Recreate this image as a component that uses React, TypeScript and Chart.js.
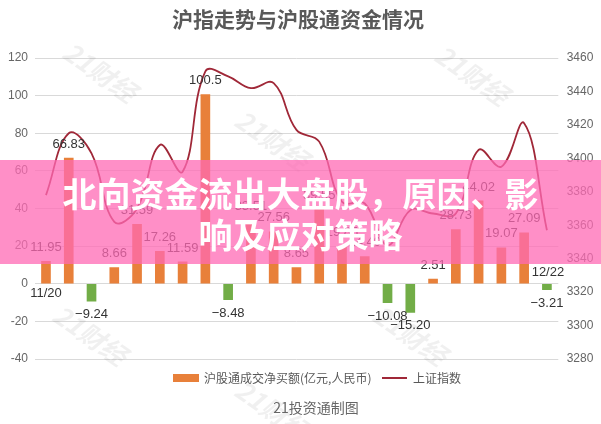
import React, { useEffect, useRef } from "react";
import { Chart, registerables } from "chart.js";

Chart.register(...registerables);

const dates = [
  "11/20", "11/23", "11/24", "11/25", "11/26", "11/27", "11/30", "12/1",
  "12/2", "12/3", "12/4", "12/7", "12/8", "12/9", "12/10", "12/11",
  "12/14", "12/15", "12/16", "12/17", "12/18", "12/21", "12/22",
];
const netBuy = [
  11.95, 66.83, -9.24, 8.66, 31.59, 17.26, 11.59, 100.5, -8.48, 33.51, 27.56,
  8.65, 39.55, 19.85, 14.49, -10.08, -15.2, 2.51, 28.73, 44.02, 19.07, 27.09,
  -3.21,
];
const netBuyLabels = [
  "11.95", "66.83", "\u22129.24", "8.66", "31.59", "17.26", "11.59", "100.5",
  "\u22128.48", "33.51", "27.56", "8.65", "39.55", "19.85", "14.49",
  "\u221210.08", "\u221215.20", "2.51", "28.73", "44.02", "19.07", "27.09",
  "\u22123.21",
];
const sseIndex = [
  3378, 3415, 3403, 3362, 3370, 3408, 3392, 3452, 3449, 3442, 3445, 3417,
  3410, 3374, 3373, 3348, 3369, 3367, 3367, 3405, 3395, 3421, 3357,
];
const leftTicks = [-40, -20, 0, 20, 40, 60, 80, 100, 120];
const rightTicks = [3280, 3300, 3320, 3340, 3360, 3380, 3400, 3420, 3440, 3460];

const titleText = "沪指走势与沪股通资金情况";
const barName = "沪股通成交净买额(亿元,人民币)";
const lineName = "上证指数";
const footerText = "21投资通制图";
const watermarkText = "21财经";
const bannerLine1 = "北向资金流出大盘股，原因、影";
const bannerLine2 = "响及应对策略";

const ORANGE = "#e8803a";
const GREEN = "#72ad47";
const LINE = "#a02838";
const NUMFONT = "'Liberation Sans', Arial, sans-serif";
const CJKFONT = "'Noto Sans CJK SC', 'Noto Sans', sans-serif";

const watermarkSpots = [
  [100, 72],
  [272, 140],
  [472, 75],
  [90, 335],
  [272, 410],
  [410, 335],
];

const overlayPlugin = {
  id: "overlayText",
  beforeDatasetsDraw(chart: any) {
    const ctx = chart.ctx;
    ctx.save();
    ctx.fillStyle = "rgba(0,0,0,0.06)";
    ctx.font = `italic bold 26px ${CJKFONT}`;
    ctx.textAlign = "center";
    ctx.textBaseline = "middle";
    watermarkSpots.forEach(([x, y]) => {
      ctx.save();
      ctx.translate(x, y);
      ctx.rotate((35 * Math.PI) / 180);
      ctx.fillText(watermarkText, 0, 0);
      ctx.restore();
    });
    ctx.restore();
  },
  afterDatasetsDraw(chart: any) {
    const ctx = chart.ctx;
    const meta = chart.getDatasetMeta(0);
    ctx.save();
    ctx.fillStyle = "#333";
    ctx.font = `13px ${NUMFONT}`;
    ctx.textAlign = "center";
    ctx.textBaseline = "middle";
    meta.data.forEach((el: any, i: number) => {
      const v = netBuy[i];
      const y = v >= 0 ? el.y - 14 : el.y + 13.5;
      ctx.fillText(netBuyLabels[i], el.x, y);
    });
    const first = meta.data[0];
    const last = meta.data[meta.data.length - 1];
    const yScale = chart.scales.y;
    const zero = yScale.getPixelForValue(0);
    ctx.fillText(dates[0], first.x, zero + 10);
    ctx.fillText(dates[dates.length - 1], last.x + 1, zero - 11);
    ctx.restore();
  },
  afterDraw(chart: any) {
    const ctx = chart.ctx;
    ctx.save();
    // title
    ctx.fillStyle = "#595959";
    ctx.font = `bold 21px ${CJKFONT}`;
    ctx.textAlign = "center";
    ctx.textBaseline = "middle";
    ctx.fillText(titleText, 298, 19);
    // legend
    const ly = 378;
    ctx.fillStyle = ORANGE;
    ctx.fillRect(173, ly - 4, 26, 8);
    ctx.font = `12px ${CJKFONT}`;
    ctx.fillStyle = "#595959";
    ctx.textAlign = "left";
    ctx.fillText(barName, 204, ly);
    ctx.strokeStyle = LINE;
    ctx.lineWidth = 2;
    ctx.beginPath();
    ctx.moveTo(382, ly);
    ctx.lineTo(407, ly);
    ctx.stroke();
    ctx.fillText(lineName, 413, ly);
    // footer
    ctx.textAlign = "center";
    ctx.font = `14px ${CJKFONT}`;
    ctx.fillStyle = "#666";
    ctx.fillText(footerText, 316, 408);
    ctx.restore();
  },
};

export default function App() {
  const ref = useRef<HTMLCanvasElement | null>(null);
  useEffect(() => {
    if (!ref.current) return;
    const chart = new Chart(ref.current, {
      type: "bar",
      data: {
        labels: dates,
        datasets: [
          {
            type: "bar",
            label: barName,
            data: netBuy,
            backgroundColor: netBuy.map((v) => (v >= 0 ? ORANGE : GREEN)),
            barThickness: 9,
            yAxisID: "y",
            order: 1,
          },
          {
            type: "line",
            label: lineName,
            data: sseIndex,
            borderColor: LINE,
            borderWidth: 1.8,
            pointRadius: 0,
            tension: 0.4,
            fill: false,
            yAxisID: "y2",
            order: 0,
          } as any,
        ],
      },
      options: {
        responsive: false,
        animation: false,
        layout: { padding: { top: 58, bottom: 65, left: 0, right: 0 } },
        plugins: {
          legend: { display: false },
          title: { display: false },
          tooltip: { enabled: false },
        },
        scales: {
          x: {
            type: "category",
            offset: true,
            display: false,
            grid: { display: false },
          },
          y: {
            position: "left",
            min: -40,
            max: 120,
            afterBuildTicks: (s: any) => {
              s.ticks = leftTicks.map((v) => ({ value: v }));
            },
            afterFit: (s: any) => {
              s.width = 34.6;
            },
            ticks: {
              padding: 6.6,
              color: "#666",
              font: { size: 12, family: NUMFONT },
              callback: (v: any) => String(v),
            },
            grid: { color: "#d9d9d9", lineWidth: 1, drawTicks: false },
            border: { display: false },
          },
          y2: {
            position: "right",
            min: 3280,
            max: 3460,
            afterBuildTicks: (s: any) => {
              s.ticks = rightTicks.map((v) => ({ value: v }));
            },
            afterFit: (s: any) => {
              s.width = 42.7;
            },
            ticks: {
              padding: 8.4,
              color: "#666",
              font: { size: 12, family: NUMFONT },
              callback: (v: any) => String(v),
            },
            grid: { display: false, drawTicks: false },
            border: { display: false },
          },
        },
      } as any,
      plugins: [overlayPlugin],
    });
    return () => chart.destroy();
  }, []);

  return (
    <div
      style={{
        position: "fixed",
        left: 0,
        top: 0,
        width: 601,
        height: 424,
        background: "#fff",
        overflow: "hidden",
      }}
    >
      <canvas ref={ref} width={601} height={424} style={{ display: "block" }} />
      <div
        style={{
          position: "absolute",
          left: 0,
          top: 160,
          width: 601,
          height: 104,
          background: "rgba(255,105,180,0.75)",
          color: "#fff",
          fontFamily: CJKFONT,
          fontWeight: 700,
          fontSize: 34,
          lineHeight: "41px",
          textAlign: "center",
          paddingTop: 12,
          boxSizing: "border-box",
        }}
      >
        <div>{bannerLine1}</div>
        <div>{bannerLine2}</div>
      </div>
    </div>
  );
}
